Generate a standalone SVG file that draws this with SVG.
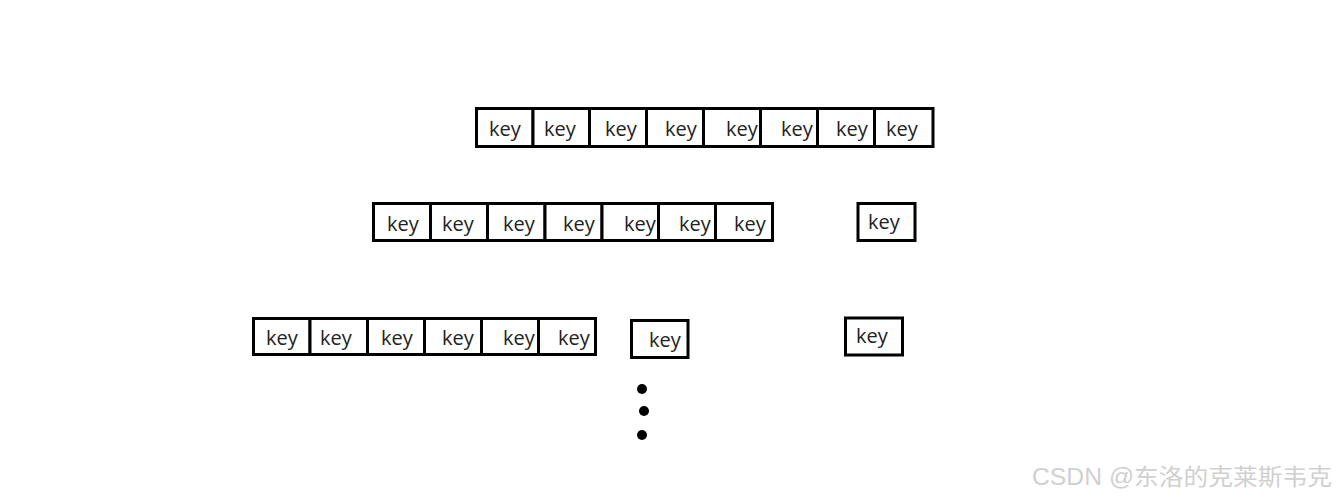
<svg xmlns="http://www.w3.org/2000/svg" width="1337" height="499" viewBox="0 0 1337 499">
<style>
.c{fill:#fff;stroke:#000;stroke-width:3}
.t{font-family:"Open Sans","Noto Sans",sans-serif;font-size:20px;fill:#222}
.w{font-family:"Liberation Sans","Noto Sans CJK SC",sans-serif;font-size:23px;fill:#d0d0d0}
</style>
<rect width="1337" height="499" fill="#fff"/>
<g id="row1">
<g id="r1c1"><rect class="c" x="476.5" y="108.5" width="56.5" height="38"/><text class="t" x="489" y="136">key</text></g>
<g id="r1c2"><rect class="c" x="533" y="108.5" width="56.5" height="38"/><text class="t" x="544" y="136">key</text></g>
<g id="r1c3"><rect class="c" x="589.5" y="108.5" width="57" height="38"/><text class="t" x="605" y="136">key</text></g>
<g id="r1c4"><rect class="c" x="646.5" y="108.5" width="57" height="38"/><text class="t" x="665" y="136">key</text></g>
<g id="r1c5"><rect class="c" x="703.5" y="108.5" width="57" height="38"/><text class="t" x="726" y="136">key</text></g>
<g id="r1c6"><rect class="c" x="760.5" y="108.5" width="57" height="38"/><text class="t" x="781" y="136">key</text></g>
<g id="r1c7"><rect class="c" x="817.5" y="108.5" width="57" height="38"/><text class="t" x="836" y="136">key</text></g>
<g id="r1c8"><rect class="c" x="874.5" y="108.5" width="58.5" height="38"/><text class="t" x="886" y="136">key</text></g>
</g>
<g id="row2">
<g id="r2c1"><rect class="c" x="373.5" y="203.5" width="57" height="37"/><text class="t" x="387" y="231">key</text></g>
<g id="r2c2"><rect class="c" x="430.5" y="203.5" width="57" height="37"/><text class="t" x="442" y="231">key</text></g>
<g id="r2c3"><rect class="c" x="487.5" y="203.5" width="57.5" height="37"/><text class="t" x="503" y="231">key</text></g>
<g id="r2c4"><rect class="c" x="545" y="203.5" width="57" height="37"/><text class="t" x="563" y="231">key</text></g>
<g id="r2c5"><rect class="c" x="602" y="203.5" width="56.5" height="37"/><text class="t" x="624" y="231">key</text></g>
<g id="r2c6"><rect class="c" x="658.5" y="203.5" width="57" height="37"/><text class="t" x="679" y="231">key</text></g>
<g id="r2c7"><rect class="c" x="715.5" y="203.5" width="57" height="37"/><text class="t" x="734" y="231">key</text></g>
</g>
<g id="single2"><rect class="c" x="858" y="203.5" width="57" height="37"/><text class="t" x="868" y="229">key</text></g>
<g id="row3">
<g id="r3c1"><rect class="c" x="253.5" y="318.5" width="56.5" height="36"/><text class="t" x="266" y="345">key</text></g>
<g id="r3c2"><rect class="c" x="310" y="318.5" width="57.5" height="36"/><text class="t" x="320" y="345">key</text></g>
<g id="r3c3"><rect class="c" x="367.5" y="318.5" width="57" height="36"/><text class="t" x="381" y="345">key</text></g>
<g id="r3c4"><rect class="c" x="424.5" y="318.5" width="57" height="36"/><text class="t" x="442" y="345">key</text></g>
<g id="r3c5"><rect class="c" x="481.5" y="318.5" width="57" height="36"/><text class="t" x="503" y="345">key</text></g>
<g id="r3c6"><rect class="c" x="538.5" y="318.5" width="57" height="36"/><text class="t" x="558" y="345">key</text></g>
</g>
<g id="single3a"><rect class="c" x="631.5" y="320.5" width="56.5" height="37"/><text class="t" x="649" y="347">key</text></g>
<g id="single3b"><rect class="c" x="845.5" y="318" width="57" height="37"/><text class="t" x="856" y="343">key</text></g>
<g id="dots" fill="#000">
<circle cx="642" cy="389" r="5"/>
<circle cx="644" cy="411" r="5"/>
<circle cx="642" cy="435" r="5"/>
</g>
<text class="w" x="1032" y="485" textLength="300" lengthAdjust="spacingAndGlyphs">CSDN @东洛的克莱斯韦克</text>
</svg>
